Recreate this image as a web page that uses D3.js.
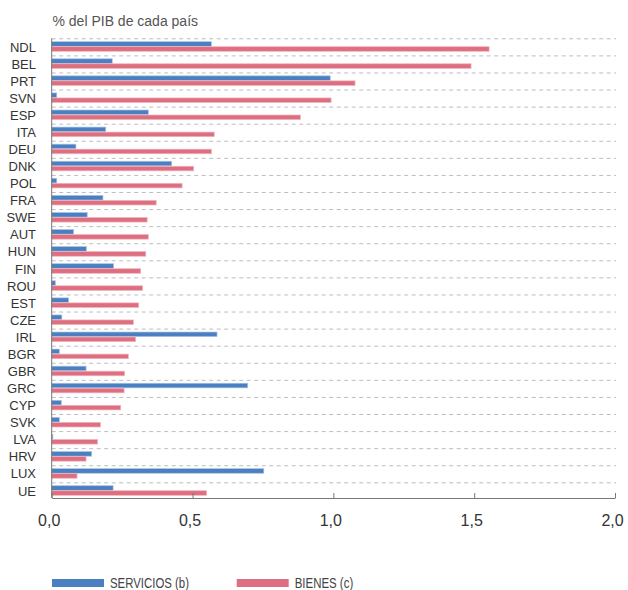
<!DOCTYPE html>
<html>
<head>
<meta charset="utf-8">
<script src="https://cdn.jsdelivr.net/npm/d3@7"></script>
<style>
  body { margin: 0; background: #fff; }
  svg { display: block; font-family: "Liberation Sans", Arial, Helvetica, sans-serif; }
</style>
</head>
<body>
<div class="canvas"></div>
<script>
// data (% del PIB)
const countries = ['NDL','BEL','PRT','SVN','ESP','ITA','DEU','DNK','POL','FRA','SWE','AUT','HUN',
  'FIN','ROU','EST','CZE','IRL','BGR','GBR','GRC','CYP','SVK','LVA','HRV','LUX','UE'];
const servicios = [0.567,0.215,0.989,0.018,0.343,0.192,0.086,0.426,0.018,0.182,0.126,0.078,0.123,
  0.220,0.013,0.060,0.036,0.587,0.027,0.122,0.696,0.034,0.027,0.004,0.142,0.753,0.218];
const bienes = [1.553,1.489,1.077,0.992,0.883,0.577,0.567,0.504,0.463,0.371,0.339,0.343,0.334,
  0.316,0.323,0.309,0.290,0.298,0.272,0.259,0.257,0.245,0.173,0.163,0.122,0.090,0.550];
const xTicks = [0, 0.5, 1, 1.5, 2];
const seriesNames = ['SERVICIOS (b)', 'BIENES (c)'];
const colors = ['#4a7fc1', '#de6f80'];
const strokes = ['#a9c2e3', '#f0b4bd'];

//------------------------ dimensions
const dims = { width: 628, height: 590 };
const m = { left: 51.7, right: 13, top: 38.3, bottom: 90.6 };

const svg = d3.select('.canvas')
  .append('svg')
  .attr('width', dims.width)
  .attr('height', dims.height);

const x = d3.scaleLinear()
  .domain([0, 2])
  .range([m.left, dims.width - m.right]);

const y = d3.scaleBand()
  .domain(countries)
  .range([m.top, dims.height - m.bottom])
  .paddingInner(0);

const axisY = 498;

// title
svg.append('text')
  .attr('x', 52.5)
  .attr('y', 26)
  .attr('fill', '#555')
  .style('font-size', '14px')
  .text('% del PIB de cada país');

// dashed gridlines at band tops
svg.append('g')
  .selectAll('line')
  .data(countries)
  .enter().append('line')
  .attr('x1', x(0))
  .attr('x2', 616)
  .attr('y1', d => y(d) + 0.5)
  .attr('y2', d => y(d) + 0.5)
  .attr('stroke', '#bdbdbd')
  .attr('stroke-width', 1)
  .attr('stroke-dasharray', '4,3.5');

// bars
const bh = 4.6;
const bars = svg.append('g');
bars.selectAll('rect.serv')
  .data(countries)
  .enter().append('rect')
  .attr('class', 'serv')
  .attr('x', x(0))
  .attr('y', d => y(d) + 3.4)
  .attr('width', (d, i) => x(servicios[i]) - x(0))
  .attr('height', bh)
  .attr('fill', colors[0])
  .attr('stroke', strokes[0])
  .attr('stroke-width', 0.7);

bars.selectAll('rect.bien')
  .data(countries)
  .enter().append('rect')
  .attr('class', 'bien')
  .attr('x', x(0))
  .attr('y', d => y(d) + 8.4)
  .attr('width', (d, i) => x(bienes[i]) - x(0))
  .attr('height', bh)
  .attr('fill', colors[1])
  .attr('stroke', strokes[1])
  .attr('stroke-width', 0.7);

// category labels
svg.append('g')
  .selectAll('text')
  .data(countries)
  .enter().append('text')
  .attr('x', 36)
  .attr('y', d => y(d) + y.bandwidth() / 2)
  .attr('dy', '0.36em')
  .attr('text-anchor', 'end')
  .attr('fill', '#333')
  .style('font-size', '13px')
  .text(d => d);

// left axis line
svg.append('line')
  .attr('x1', x(0)).attr('x2', x(0))
  .attr('y1', m.top).attr('y2', axisY)
  .attr('stroke', '#777')
  .attr('stroke-width', 1);

// bottom axis, ticks pointing up
const xAxis = d3.axisBottom(x)
  .tickValues(xTicks)
  .tickSize(-5)
  .tickSizeOuter(0)
  .tickPadding(0)
  .tickFormat(d => d3.format('.1f')(d).replace('.', ','));

const gx = svg.append('g')
  .attr('transform', `translate(0, ${axisY})`)
  .call(xAxis);
gx.select('.domain').attr('stroke', '#777');
gx.selectAll('.tick line').attr('stroke', '#777');
gx.selectAll('.tick text')
  .attr('y', 28)
  .attr('dy', 0)
  .attr('dx', -3)
  .attr('fill', '#333')
  .style('font-size', '16px')
  .style('font-family', '"Liberation Sans", Arial, sans-serif');

// legend (condensed text squeezed to the reference width)
const legend = svg.append('g')
  .attr('transform', 'translate(52, 579)');
const legX = [0, 184.7];
const legW = [79, 58.5];
seriesNames.forEach((name, i) => {
  legend.append('rect')
    .attr('x', legX[i]).attr('y', 0)
    .attr('width', 52).attr('height', 8)
    .attr('fill', colors[i]);
  legend.append('text')
    .attr('x', legX[i] + 58)
    .attr('y', 9)
    .attr('fill', '#444')
    .attr('textLength', legW[i])
    .attr('lengthAdjust', 'spacingAndGlyphs')
    .style('font-size', '14.5px')
    .text(name);
});
</script>
</body>
</html>
